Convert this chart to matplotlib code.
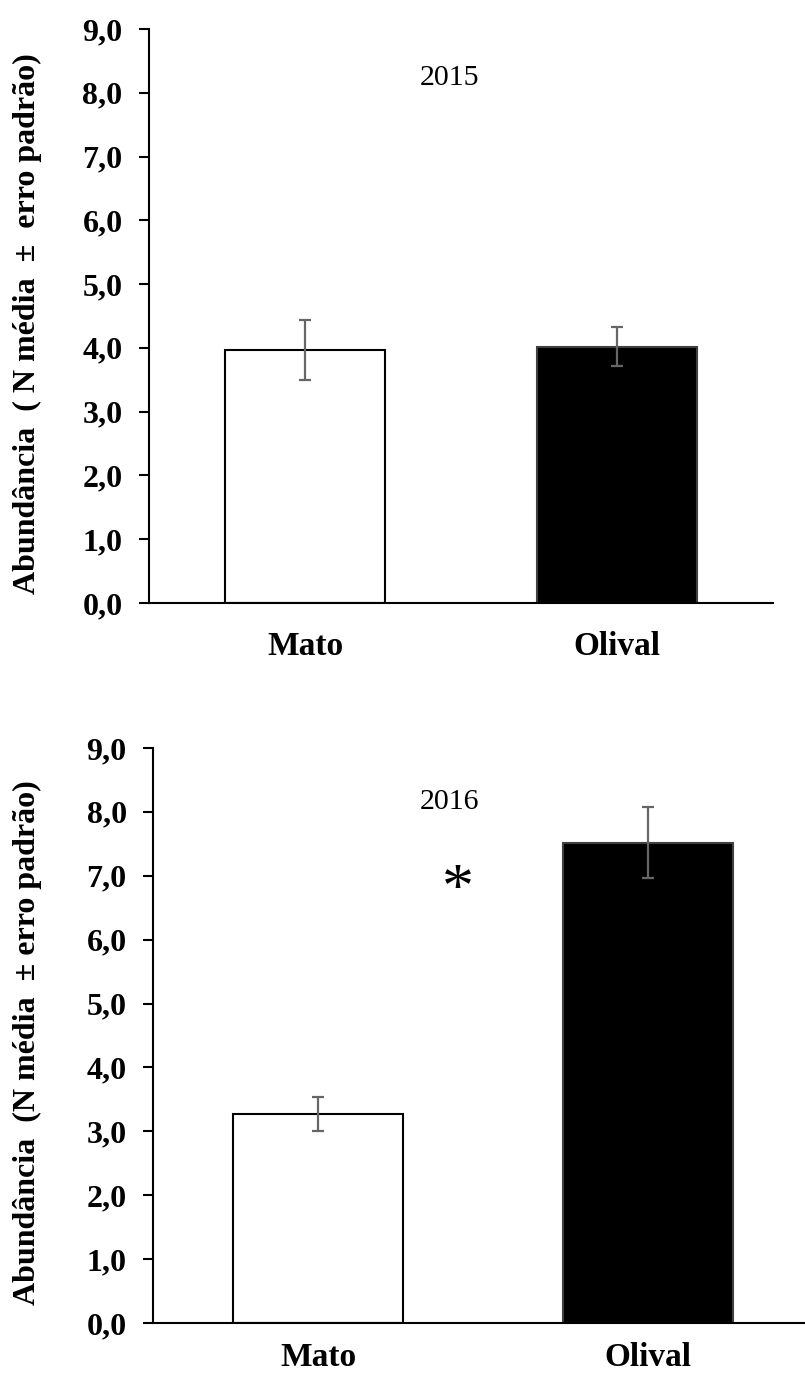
import matplotlib
matplotlib.use("Agg")
import matplotlib.pyplot as plt
from matplotlib.ticker import FuncFormatter

# dados
categorias = ["Mato", "Olival"]
anos = ["2015", "2016"]
media_2015 = [3.96, 4.02]
erro_2015 = [0.47, 0.30]
media_2016 = [3.27, 7.52]
erro_2016 = [0.26, 0.56]
cores = ["white", "black"]
yticks = [0, 1, 2, 3, 4, 5, 6, 7, 8, 9]

plt.rcParams["font.family"] = ["Liberation Serif", "DejaVu Serif"]

fig = plt.figure(figsize=(8.05, 13.78), dpi=100)
ax1 = fig.add_axes([0.1851, 0.5624, 0.7752, 0.4166])
ax2 = fig.add_axes([0.1901, 0.0399, 0.8199, 0.4173])

ylabels = ["Abundância  ( N média  \u00b1  erro padrão)",
           "Abundância  (N média  \u00b1 erro padrão)"]
dados = [(media_2015, erro_2015), (media_2016, erro_2016)]
label_x = [-0.171, -0.168]
# o painel de baixo fica rente à borda, por isso menos espaço
xpad = [20, 14]

for i, ax in enumerate([ax1, ax2]):
    medias, erros = dados[i]
    x = list(range(len(categorias)))
    ax.bar(x, medias, width=0.515, color=cores, edgecolor=["black", "#404040"], linewidth=1.5, zorder=2)
    ax.errorbar(x, medias, yerr=erros, fmt="none", ecolor="#666666", elinewidth=1.6,
                capsize=4.5, capthick=1.6, zorder=3)
    ax.set_xlim(-0.5, 1.5)
    ax.set_ylim(0, 9)
    ax.set_yticks(yticks)
    ax.yaxis.set_major_formatter(FuncFormatter(lambda v, p: f"{v:.1f}".replace(".", ",")))
    ax.set_xticks(x)
    ax.set_xticklabels(categorias, fontsize=24, fontweight="bold")
    ax.tick_params(axis="x", length=0, pad=xpad[i])
    ax.tick_params(axis="y", length=7, width=1.5, pad=12, labelsize=23, direction="out")
    for lab in ax.get_yticklabels():
        lab.set_fontweight("bold")
    ax.spines["top"].set_visible(False)
    ax.spines["right"].set_visible(False)
    ax.spines["left"].set_linewidth(1.5)
    ax.spines["bottom"].set_linewidth(1.5)
    ax.set_ylabel(ylabels[i], fontsize=23, fontweight="bold")
    ax.yaxis.set_label_coords(label_x[i], 0.487)

ax1.text(0.462, 8.23, anos[0], fontsize=21.5, ha="center", va="center")
ax2.text(0.397, 8.15, anos[1], fontsize=21.5, ha="center", va="center")
ax2.text(0.424, 6.74, "*", fontsize=46, ha="center", va="center")

fig.savefig("out.png", dpi=100)
